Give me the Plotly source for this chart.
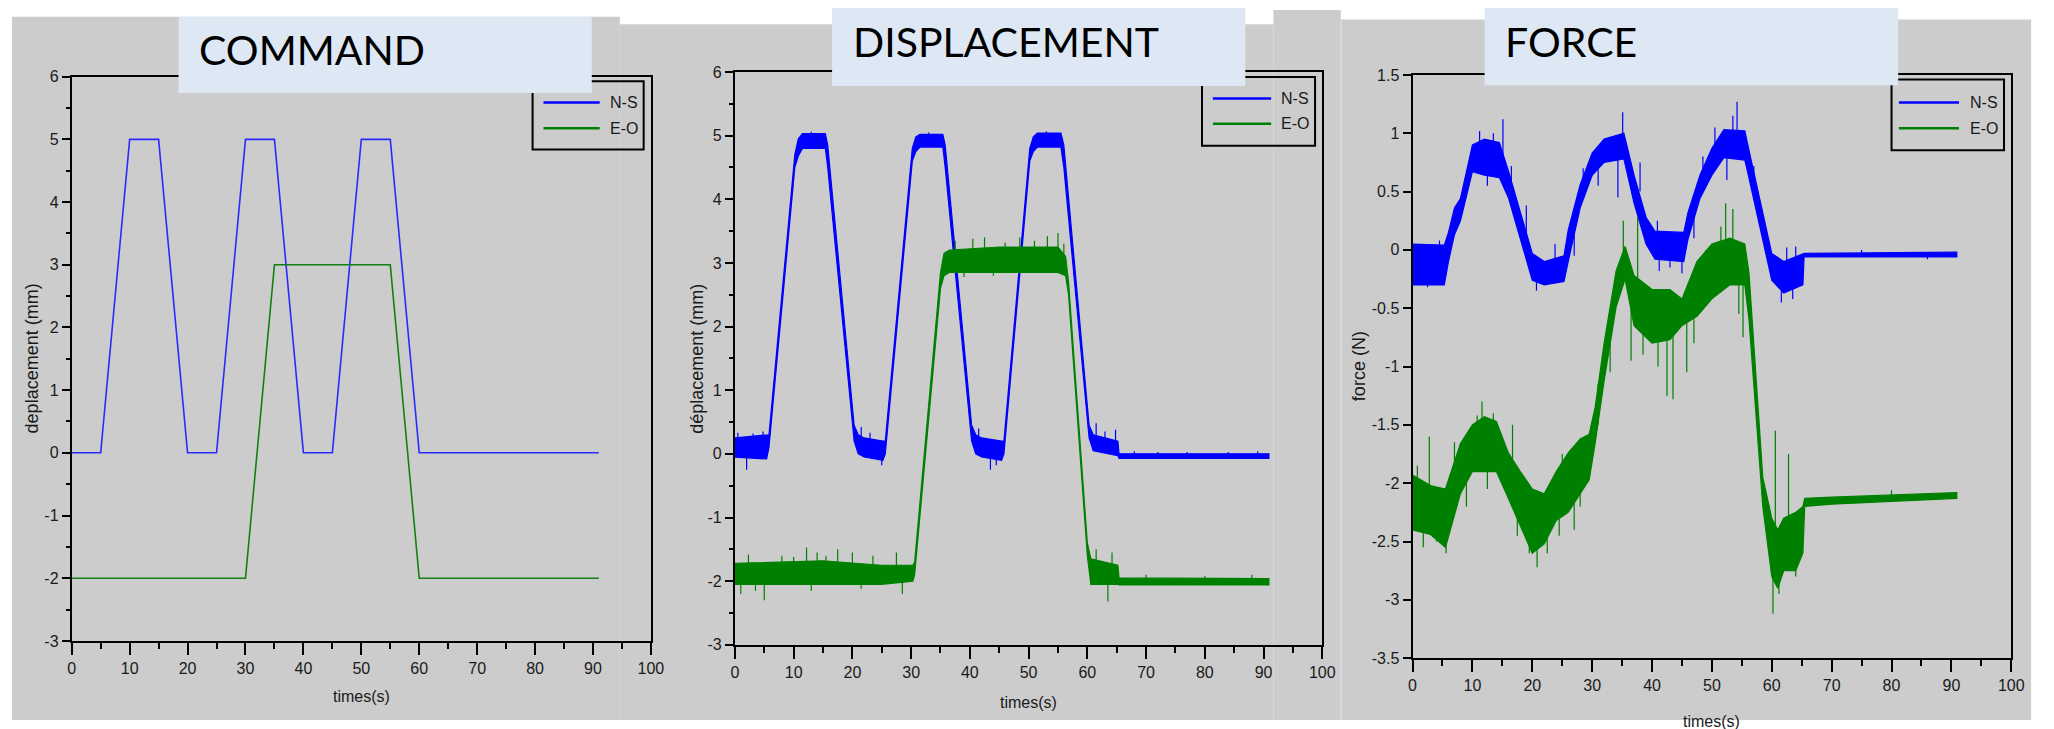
import plotly.graph_objects as go

W, H = 2054, 729

# ---------------- DATA ----------------
# COMMAND panel (deplacement, mm)
cmd_t_ns = [0, 5, 10, 15, 20, 25, 30, 35, 40, 45, 50, 55, 60, 91]
cmd_ns = [0, 0, 5, 5, 0, 0, 5, 5, 0, 0, 5, 5, 0, 0]
cmd_t_eo = [0, 30, 35, 55, 60, 91]
cmd_eo = [-2, -2, 3, 3, -2, -2]

# DISPLACEMENT panel: noisy band (time, lower, upper)
disp_ns_t = [0, 5.4, 5.8, 10.2, 10.8, 11.5, 15.4, 15.8, 20.3, 21.0, 22.0, 25.2, 25.6,
             30.2, 30.8, 31.5, 35.4, 35.8, 40.3, 41.0, 42.0, 45.4, 45.8, 50.2, 50.8,
             51.5, 55.5, 56.0, 60.3, 61.0, 65.2, 65.4, 91]
disp_ns_lo = [-0.05, -0.08, 0.1, 4.5, 4.68, 4.8, 4.8, 4.5, 0.2, 0.0, -0.05, -0.1, 0.0,
              4.6, 4.75, 4.82, 4.82, 4.5, 0.2, 0.0, -0.05, -0.1, 0.0, 4.6, 4.75,
              4.82, 4.82, 4.5, 0.25, 0.05, -0.03, -0.07, -0.07]
disp_ns_hi = [0.25, 0.3, 0.3, 4.7, 4.95, 5.03, 5.03, 4.85, 0.45, 0.3, 0.25, 0.2, 0.2,
              4.8, 4.98, 5.02, 5.02, 4.85, 0.45, 0.3, 0.25, 0.2, 0.2, 4.8, 4.98,
              5.04, 5.04, 4.85, 0.45, 0.3, 0.2, 0.0, 0.0]
disp_ns_spk_t = [0.5, 2.0, 3.1, 4.8, 13.0, 21.5, 23.0, 25.0, 33.0, 41.5, 43.5, 44.5, 53.0,
                 61.5, 63.0, 64.8, 68.0, 72.0, 77.0, 84.0, 89.0]
disp_ns_spk_a = [0.2, 0.0, 0.2, 0.2, 4.95, 0.2, 0.2, 0.0, 4.95, 0.2, 0.0, 0.0, 4.95,
                 0.25, 0.2, 0.2, -0.03, -0.03, -0.03, -0.03, -0.03]
disp_ns_spk_b = [0.33, -0.25, 0.32, 0.35, 5.06, 0.42, 0.33, -0.18, 5.05, 0.4, -0.25, -0.18, 5.07,
                 0.48, 0.35, 0.38, 0.04, 0.03, 0.03, 0.03, 0.04]

disp_eo_t = [0, 10, 15, 25, 30.3, 30.6, 35.0, 35.6, 36.5, 45, 55, 56.3, 56.8, 60.0, 60.6,
             65.2, 65.4, 91]
disp_eo_lo = [-2.05, -2.05, -2.05, -2.05, -2.0, -1.9, 2.6, 2.8, 2.85, 2.85, 2.85, 2.8, 2.5,
              -1.6, -2.05, -2.05, -2.06, -2.06]
disp_eo_hi = [-1.72, -1.7, -1.68, -1.75, -1.75, -1.7, 2.85, 3.15, 3.2, 3.25, 3.25, 3.1, 2.7,
              -1.4, -1.65, -1.75, -1.95, -1.96]
disp_eo_spk_t = [1.0, 2.3, 3.5, 5.0, 8.0, 10.0, 12.2, 13.0, 14.0, 15.5, 17.5, 20.0, 21.5, 23.5,
                 27.5, 28.5, 37.5, 39.0, 40.5, 42.5, 44.0, 46.0, 48.5, 51.0, 53.2, 55.0, 56.0,
                 61.5, 63.5, 64.2, 70.0, 80.0, 88.0]
disp_eo_spk_a = [-1.95, -1.8, -1.95, -1.95, -1.8, -1.8, -1.8, -1.95, -1.8, -1.8, -1.8, -1.8,
                 -1.95, -1.8, -1.8, -1.95, 3.1, 2.9, 3.1, 3.1, 2.9, 3.1, 3.1, 3.1, 3.1, 3.1, 3.0,
                 -1.8, -2.0, -1.8, -2.0, -2.0, -2.0]
disp_eo_spk_b = [-2.2, -1.58, -2.15, -2.3, -1.6, -1.62, -1.47, -2.15, -1.55, -1.6, -1.5, -1.55,
                 -2.12, -1.6, -1.55, -2.2, 3.35, 2.78, 3.38, 3.4, 2.8, 3.32, 3.4, 3.35, 3.42,
                 3.47, 3.3, -1.5, -2.32, -1.55, -1.9, -1.92, -1.9]

# FORCE panel (N)
force_ns_t = [0, 5.3, 6, 7, 8, 10, 12, 14.5, 16, 18, 20, 22, 25.3, 26, 28, 30, 32, 35.3,
              37, 39, 40.5, 45.3, 46, 48, 50, 52, 55.5, 56, 58, 60, 62, 65.2, 65.4, 91]
force_ns_lo = [-0.3, -0.3, -0.1, 0.13, 0.25, 0.67, 0.64, 0.62, 0.45, 0.09, -0.26, -0.3, -0.27,
               -0.1, 0.36, 0.64, 0.75, 0.78, 0.4, 0.05, -0.08, -0.1, 0.09, 0.44, 0.64, 0.79,
               0.77, 0.66, 0.21, -0.26, -0.37, -0.3, -0.06, -0.06]
force_ns_hi = [0.05, 0.04, 0.15, 0.36, 0.44, 0.9, 0.95, 0.92, 0.68, 0.32, -0.03, -0.1, -0.05,
               0.17, 0.56, 0.83, 0.95, 1.0, 0.64, 0.28, 0.16, 0.15, 0.32, 0.64, 0.87, 1.03,
               1.02, 0.9, 0.44, -0.03, -0.1, -0.03, -0.03, -0.02]
force_ns_spk_t = [1.0, 2.5, 4.5, 9.0, 11.2, 12.5, 13.5, 15.1, 16.5, 19.0, 20.7, 23.8, 27.0,
                  28.5, 31.0, 34.3, 35.1, 38.0, 40.9, 41.2, 43.0, 45.0, 47.0, 48.5, 50.5,
                  52.5, 53.5, 54.2, 57.0, 61.6, 62.5, 63.5, 64.0, 75.0, 86.0]
force_ns_spk_a = [-0.15, -0.15, -0.1, 0.6, 0.8, 0.7, 0.8, 0.8, 0.5, 0.1, -0.2, -0.1, 0.2,
                  0.5, 0.7, 0.85, 0.9, 0.5, 0.05, 0.0, 0.0, 0.0, 0.3, 0.6, 0.8,
                  0.85, 0.9, 0.9, 0.5, -0.2, -0.2, -0.2, -0.2, -0.04, -0.04]
force_ns_spk_b = [0.05, -0.32, 0.08, 0.45, 1.02, 0.55, 1.0, 1.12, 0.72, 0.38, -0.35, 0.05, -0.05,
                  0.7, 0.55, 0.45, 1.18, 0.75, 0.25, -0.18, -0.15, -0.2, 0.1, 0.8, 1.05,
                  0.6, 1.15, 1.27, 0.72, -0.45, 0.02, -0.42, 0.03, -0.0, -0.08]

force_eo_t = [0, 3, 5.5, 8, 10, 12, 14, 16, 18, 20, 22, 24, 26, 28, 29.5, 30.5, 32, 34, 35.5,
              37, 40, 43, 45, 47.5, 50, 53, 55.5, 56.2, 58.5, 60, 61, 62, 64, 65.2, 65.5, 70, 91]
force_eo_lo = [-2.4, -2.44, -2.55, -2.09, -1.9, -1.9, -1.9, -2.13, -2.36, -2.6, -2.52, -2.32,
               -2.25, -2.09, -1.97, -1.66, -1.12, -0.49, -0.25, -0.65, -0.8, -0.77, -0.65,
               -0.57, -0.42, -0.3, -0.3, -0.6, -2.2, -2.8, -2.9, -2.75, -2.75, -2.6, -2.2,
               -2.18, -2.13]
force_eo_hi = [-1.93, -2.02, -2.05, -1.66, -1.5, -1.43, -1.47, -1.74, -1.9, -2.05, -2.09, -1.9,
               -1.74, -1.62, -1.58, -1.35, -0.8, -0.18, 0.03, -0.22, -0.34, -0.34, -0.42,
               -0.1, 0.05, 0.1, 0.05, -0.2, -1.95, -2.3, -2.4, -2.3, -2.25, -2.2, -2.13,
               -2.12, -2.08]
force_eo_spk_t = [0.8, 1.8, 2.8, 4.0, 5.6, 7.0, 9.0, 10.8, 11.6, 12.5, 13.5, 15.0, 16.7, 17.5,
                  19.5, 20.8, 22.5, 24.5, 25.0, 27.0, 28.0, 31.0, 33.0, 35.2, 36.5, 37.6,
                  38.5, 41.0, 42.5, 43.5, 45.8, 47.0, 49.0, 51.5, 52.3, 53.5, 54.5, 55.2,
                  60.2, 60.6, 61.2, 62.8, 64.0, 80.0]
force_eo_spk_a = [-2.1, -2.2, -2.1, -2.2, -2.3, -2.0, -1.8, -1.7, -1.6, -1.7, -1.6, -1.7,
                  -1.8, -2.0, -2.2, -2.3, -2.3, -2.1, -2.0, -2.0, -1.8, -1.5, -0.7, -0.1,
                  -0.4, -0.4, -0.4, -0.6, -0.6, -0.6, -0.5, -0.4, -0.3, -0.15, -0.1,
                  -0.1, -0.1, -0.1, -2.5, -2.4, -2.6, -2.5, -2.5, -2.12]
force_eo_spk_b = [-1.85, -2.55, -1.6, -2.5, -2.6, -1.65, -2.2, -1.42, -1.3, -2.05, -1.4, -2.0,
                  -1.5, -2.45, -2.6, -2.72, -2.6, -2.45, -1.75, -2.4, -2.2, -1.15, -1.05, 0.25,
                  -0.95, 0.28, -0.9, -1.0, -1.25, -1.28, -1.05, -0.8, 0.0, 0.2, 0.4,
                  0.35, -0.55, -0.75, -3.12, -1.55, -2.95, -1.75, -2.8, -2.06]

x_ticks = [0, 10, 20, 30, 40, 50, 60, 70, 80, 90, 100]
x_ticktext = ["0", "10", "20", "30", "40", "50", "60", "70", "80", "90", "100"]
y_ticks_mm = [-3, -2, -1, 0, 1, 2, 3, 4, 5, 6]
y_ticktext_mm = ["-3", "-2", "-1", "0", "1", "2", "3", "4", "5", "6"]
y_ticks_n = [-3.5, -3, -2.5, -2, -1.5, -1, -0.5, 0, 0.5, 1, 1.5]
y_ticktext_n = ["-3.5", "-3", "-2.5", "-2", "-1.5", "-1", "-0.5", "0", "0.5", "1", "1.5"]

panel_titles = ["COMMAND", "DISPLACEMENT", "FORCE"]
y_titles = ["deplacement (mm)", "déplacement (mm)", "force (N)"]
x_title = "times(s)"
series_names = ["N-S", "E-O"]

# ---------------- STYLE ----------------
BLUE = "#0000ff"
GREEN = "#008000"
GRAY = "#cccccc"
BOXBLUE = "#dde8f4"
NARROW = "Liberation Sans Narrow, Arial Narrow, Liberation Sans, Arial, sans-serif"
REG = "Liberation Sans, Arial, sans-serif"
TXT = "#1a1a1a"


def px(x):
    return x / W


def py(y):
    return 1 - y / H


fig = go.Figure()

# Command traces
fig.add_trace(go.Scatter(x=cmd_t_ns, y=cmd_ns, mode="lines", name=series_names[0],
                         line=dict(color="#2a2aff", width=1.6), xaxis="x", yaxis="y"))
fig.add_trace(go.Scatter(x=cmd_t_eo, y=cmd_eo, mode="lines", name=series_names[1],
                         line=dict(color="#118011", width=1.6), xaxis="x", yaxis="y"))


def add_band(t, lo, hi, st, sa, sb, color, name, xa, ya):
    fig.add_trace(go.Scatter(x=t, y=lo, mode="lines", name=name, line=dict(color=color, width=1.2),
                             xaxis=xa, yaxis=ya))
    fig.add_trace(go.Scatter(x=t, y=hi, mode="lines", name=name, line=dict(color=color, width=1.2),
                             fill="tonexty", fillcolor=color, xaxis=xa, yaxis=ya, hoverinfo="skip"))
    sx, sy = [], []
    for ti, a, b in zip(st, sa, sb):
        sx += [ti, ti, None]
        sy += [a, b, None]
    fig.add_trace(go.Scatter(x=sx, y=sy, mode="lines", name=name, line=dict(color=color, width=1.2),
                             xaxis=xa, yaxis=ya, hoverinfo="skip"))


add_band(disp_ns_t, disp_ns_lo, disp_ns_hi, disp_ns_spk_t, disp_ns_spk_a, disp_ns_spk_b,
         BLUE, series_names[0], "x2", "y2")
add_band(disp_eo_t, disp_eo_lo, disp_eo_hi, disp_eo_spk_t, disp_eo_spk_a, disp_eo_spk_b,
         GREEN, series_names[1], "x2", "y2")
add_band(force_ns_t, force_ns_lo, force_ns_hi, force_ns_spk_t, force_ns_spk_a, force_ns_spk_b,
         BLUE, series_names[0], "x3", "y3")
add_band(force_eo_t, force_eo_lo, force_eo_hi, force_eo_spk_t, force_eo_spk_a, force_eo_spk_b,
         GREEN, series_names[1], "x3", "y3")

# Axes geometry (pixels)
panels = [
    dict(x0=68.3, x1=652.3, y0=70.3, y1=648.0),
    dict(x0=737.0, x1=1329.3, y0=65.5, y1=652.0),
    dict(x0=1420.3, x1=2024.0, y0=68.5, y1=665.7),
]


def xaxis_cfg(p, anchor):
    return dict(domain=[px(p["x0"]), px(p["x1"])], anchor=anchor, range=[0, 100],
                tickvals=x_ticks, ticktext=x_ticktext, showgrid=False, zeroline=False,
                showline=True, mirror=True, linecolor="black", linewidth=2,
                ticks="outside", ticklen=12, tickwidth=2, tickcolor="black",
                tickfont=dict(family=NARROW, size=16, color=TXT),
                minor=dict(dtick=5, tick0=0, ticks="outside", ticklen=6, tickwidth=2,
                           tickcolor="black", showgrid=False))


def yaxis_cfg(p, anchor, rng, tv, tt, minor_dt):
    d = dict(domain=[py(p["y1"]), py(p["y0"])], anchor=anchor, range=rng,
             tickvals=tv, ticktext=tt, showgrid=False, zeroline=False,
             showline=True, mirror=True, linecolor="black", linewidth=2,
             ticks="outside", ticklen=8, tickwidth=2, tickcolor="black",
             tickfont=dict(family=NARROW, size=16, color=TXT))
    if minor_dt:
        d["minor"] = dict(dtick=minor_dt, tick0=0, ticks="outside", ticklen=4, tickwidth=2,
                          tickcolor="black", showgrid=False)
    return d


fig.update_layout(
    xaxis=xaxis_cfg(panels[0], "y"),
    yaxis=yaxis_cfg(panels[0], "x", [-3, 6], y_ticks_mm, y_ticktext_mm, 0.5),
    xaxis2=xaxis_cfg(panels[1], "y2"),
    yaxis2=yaxis_cfg(panels[1], "x2", [-3, 6], y_ticks_mm, y_ticktext_mm, 0.5),
    xaxis3=xaxis_cfg(panels[2], "y3"),
    yaxis3=yaxis_cfg(panels[2], "x3", [-3.5, 1.5], y_ticks_n, y_ticktext_n, None),
)

shapes = []
annotations = []
# grey background of the three pasted screenshots
for (a, b, c) in [(8, 621, 9), (621, 1280, 16.7), (1280, 1348, 2), (1348, 2044, 11.7)]:
    shapes.append(dict(type="rect", xref="paper", yref="paper", x0=px(a), x1=px(b),
                       y0=0, y1=py(c), fillcolor=GRAY, line=dict(width=0), layer="below"))
shapes.append(dict(type="line", xref="paper", yref="paper", x0=px(1348.5), x1=px(1348.5),
                   y0=0, y1=py(11.7), line=dict(color="#dedede", width=1), layer="below"))

# legend frames + entries (frame, line start, line end, text x, row y's)
legends = [
    dict(box=(533, 645, 75, 145), l0=544, l1=600.7, tx=609, rows=(96.7, 123)),
    dict(box=(1208, 1322, 70.7, 141), l0=1219, l1=1277.7, tx=1286, rows=(92.7, 118.5)),
    dict(box=(1903.3, 2016.7, 73.3, 145.7), l0=1910.7, l1=1971.3, tx=1980, rows=(96.7, 123)),
]
for lg in legends:
    a, b, c, d = lg["box"]
    shapes.append(dict(type="rect", xref="paper", yref="paper", x0=px(a), x1=px(b),
                       y0=py(d), y1=py(c), line=dict(color="black", width=2),
                       fillcolor="rgba(0,0,0,0)", layer="above"))
    for name, col, ry in zip(series_names, [BLUE, GREEN], lg["rows"]):
        shapes.append(dict(type="line", xref="paper", yref="paper", x0=px(lg["l0"]),
                           x1=px(lg["l1"]), y0=py(ry), y1=py(ry),
                           line=dict(color=col, width=2.5), layer="above"))
        annotations.append(dict(text=name, xref="paper", yref="paper", x=px(lg["tx"]), y=py(ry),
                                xanchor="left", yanchor="middle", showarrow=False,
                                font=dict(family=NARROW, size=16, color=TXT)))

# title boxes
for (a, b, c, d) in [(176, 592.7, 9, 87), (835, 1251.7, 0, 79.8), (1493, 1910, 0, 79)]:
    shapes.append(dict(type="rect", xref="paper", yref="paper", x0=px(a), x1=px(b),
                       y0=py(d), y1=py(c), fillcolor=BOXBLUE, line=dict(width=0), layer="above"))

for txt, x, y in zip(panel_titles, [195, 854, 1512], [42, 34, 34]):
    annotations.append(dict(text=txt, xref="paper", yref="paper", x=px(x), y=py(y),
                            xanchor="left", yanchor="middle", showarrow=False,
                            font=dict(family="Lato, Carlito, sans-serif", size=41, color="black")))
# axis titles
for txt, x, y in zip(y_titles, [28, 698, 1367], [359, 359, 367]):
    annotations.append(dict(text=txt, xref="paper", yref="paper", x=px(x), y=py(y),
                            xanchor="center", yanchor="middle", textangle=-90, showarrow=False,
                            font=dict(family=REG, size=18, color=TXT)))
for x, y in zip([360.3, 1033, 1722], [705, 711, 731]):
    annotations.append(dict(text=x_title, xref="paper", yref="paper", x=px(x), y=py(y),
                            xanchor="center", yanchor="middle", showarrow=False,
                            font=dict(family=NARROW, size=16, color=TXT)))

fig.update_layout(width=W, height=H, margin=dict(l=0, r=0, t=0, b=0),
                  paper_bgcolor="white", plot_bgcolor="rgba(0,0,0,0)",
                  shapes=shapes, annotations=annotations, showlegend=False)

fig.write_html("out.html")
